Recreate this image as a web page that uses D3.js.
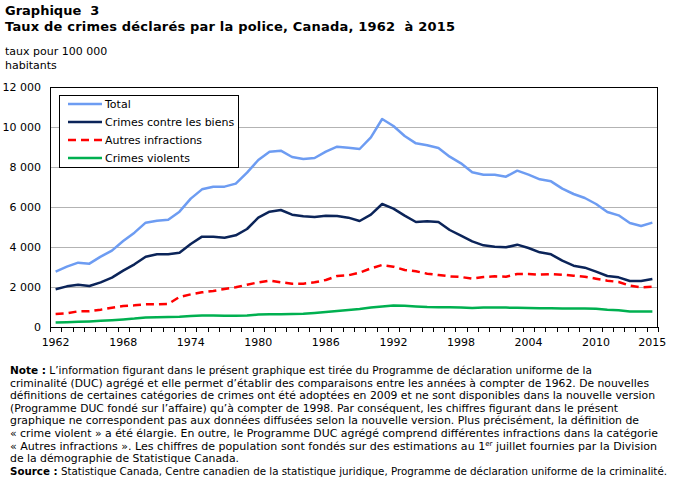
<!DOCTYPE html>
<html><head><meta charset="utf-8">
<script src="https://cdn.jsdelivr.net/npm/d3@7"></script>
<style>
body{margin:0;background:#fff;}
svg{display:block;}
</style></head>
<body>
<svg id="c" width="673" height="484"></svg>
<script>
const years = d3.range(1962, 2016);
const total = [2770,3017,3217,3167,3517,3817,4300,4717,5217,5317,5367,5767,6417,6883,7017,7017,7167,7717,8350,8767,8817,8500,8400,8450,8767,9017,8967,8900,9483,10400,10050,9550,9183,9083,8950,8517,8183,7733,7617,7617,7517,7817,7617,7383,7283,6917,6650,6450,6150,5750,5583,5200,5050,5217];
const biens = [1891,2033,2117,2050,2233,2467,2817,3133,3517,3633,3633,3717,4150,4517,4517,4467,4583,4900,5467,5767,5850,5617,5533,5500,5567,5550,5467,5300,5617,6150,5917,5567,5250,5283,5250,4850,4567,4283,4083,4017,3983,4117,3950,3733,3633,3317,3067,2967,2767,2550,2483,2300,2300,2400];
const autres = [650,683,783,783,867,967,1050,1083,1133,1133,1150,1500,1633,1733,1800,1900,1983,2117,2233,2317,2233,2167,2167,2233,2350,2550,2583,2717,2933,3100,3017,2850,2783,2667,2600,2533,2500,2417,2500,2533,2517,2650,2650,2617,2650,2617,2567,2517,2417,2317,2250,2067,1983,2017];
const violents = [220,240,260,280,310,340,380,420,480,490,500,510,550,580,580,560,560,580,620,640,640,650,660,700,750,800,850,900,970,1030,1080,1060,1030,1000,990,990,980,950,970,980,970,960,950,940,940,930,930,920,910,860,840,780,770,770];
const yTicks = [0,2000,4000,6000,8000,10000,12000];
const xLabelYears = [1962,1968,1974,1980,1986,1992,1998,2004,2010,2015];
const seriesNames = ["Total","Crimes contre les biens","Autres infractions","Crimes violents"];
const seriesColors = ["#6d9cf2","#0b2459","#ff0000","#00b050"];
const seriesDash = [null,null,"8,5",null];
const seriesData = [total,biens,autres,violents];

const svg = d3.select("#c");
const L=50, R=658, T=87, B=327;
const x = d3.scaleBand().domain(years).range([L,R]);
const y = d3.scaleLinear().domain([0,12000]).range([B,T]);

// titles
svg.append("text").attr("x",5).attr("y",15).attr("font-family","DejaVu Sans").attr("font-weight","bold").attr("font-size",13).text("Graphique  3").style("white-space","pre");
svg.append("text").attr("x",5).attr("y",31).attr("font-family","DejaVu Sans").attr("font-weight","bold").attr("font-size",13).text("Taux de crimes déclarés par la police, Canada, 1962  à 2015").style("white-space","pre")
  .attr("textLength",450).attr("lengthAdjust","spacing");
svg.append("text").attr("x",5).attr("y",55).attr("font-family","DejaVu Sans").attr("font-size",11).text("taux pour 100 000");
svg.append("text").attr("x",5).attr("y",69).attr("font-family","DejaVu Sans").attr("font-size",11).text("habitants");

// gridlines
svg.append("g").selectAll("line").data(yTicks.filter(d=>d>0 && d<12000)).join("line")
  .attr("x1",L).attr("x2",R).attr("y1",d=>y(d)).attr("y2",d=>y(d))
  .attr("stroke","#b3b3b3").attr("stroke-width",1).attr("shape-rendering","crispEdges");

// y labels
svg.append("g").selectAll("text").data(yTicks).join("text")
  .attr("x",41).attr("y",d=>y(d)+4).attr("text-anchor","end")
  .attr("font-family","DejaVu Sans").attr("font-size",11).attr("fill","#000")
  .text(d=>d===0?"0":d3.format(",")(d).replace(","," "));

// x ticks at band boundaries
const bounds = years.map(d=>x(d)).concat([R]);
svg.append("g").selectAll("line").data(bounds).join("line")
  .attr("x1",d=>Math.round(d)+0.5).attr("x2",d=>Math.round(d)+0.5).attr("y1",B).attr("y2",B+5)
  .attr("stroke","#000").attr("stroke-width",1);

// x labels
svg.append("g").selectAll("text").data(xLabelYears).join("text")
  .attr("x",d=>x(d)+x.bandwidth()/2).attr("y",346).attr("text-anchor","middle")
  .attr("font-family","DejaVu Sans").attr("font-size",11).text(d=>d);

// lines
const line = d3.line().x((d,i)=>x(years[i])+x.bandwidth()/2).y(d=>y(d)).curve(d3.curveLinear);
[3,2,1,0].forEach(k=>{
  svg.append("path").datum(seriesData[k]).attr("d",line)
    .attr("fill","none").attr("stroke",seriesColors[k]).attr("stroke-width",2.5)
    .attr("stroke-linejoin","round").attr("stroke-dasharray",seriesDash[k]);
});

// frame
svg.append("rect").attr("x",L+0.5).attr("y",T+0.5).attr("width",R-L-1).attr("height",B-T)
  .attr("fill","none").attr("stroke","#000").attr("stroke-width",1);

// legend
const lg = svg.append("g");
lg.append("rect").attr("x",59.5).attr("y",95.5).attr("width",179).attr("height",72)
  .attr("fill","#fff").attr("stroke","#000").attr("stroke-width",1);
seriesNames.forEach((n,i)=>{
  const yy = 104 + i*18;
  lg.append("line").attr("x1",68).attr("x2",102).attr("y1",yy).attr("y2",yy)
    .attr("stroke",seriesColors[i]).attr("stroke-width",2.5).attr("stroke-dasharray",seriesDash[i]);
  lg.append("text").attr("x",105).attr("y",yy+4).attr("font-family","DejaVu Sans").attr("font-size",11).text(n);
});

// notes
const notes = [
 [["Note :","b"],[" L’information figurant dans le présent graphique est tirée du Programme de déclaration uniforme de la",""]],
 [["criminalité (DUC) agrégé et elle permet d’établir des comparaisons entre les années à compter de 1962. De nouvelles",""]],
 [["définitions de certaines catégories de crimes ont été adoptées en 2009 et ne sont disponibles dans la nouvelle version",""]],
 [["(Programme DUC fondé sur l’affaire) qu’à compter de 1998. Par conséquent, les chiffres figurant dans le présent",""]],
 [["graphique ne correspondent pas aux données diffusées selon la nouvelle version. Plus précisément, la définition de",""]],
 [["« crime violent » a été élargie. En outre, le Programme DUC agrégé comprend différentes infractions dans la catégorie",""]],
 [["« Autres infractions ». Les chiffres de population sont fondés sur des estimations au 1",""],["er","sup"],[" juillet fournies par la Division",""]],
 [["de la démographie de Statistique Canada.",""]],
 [["Source :","b"],[" Statistique Canada, Centre canadien de la statistique juridique, Programme de déclaration uniforme de la criminalité.",""]]
];
const lineEnds = [592,649,655,618,639,658,657,239,667];
notes.forEach((parts,i)=>{
  const t = svg.append("text").attr("x",10).attr("y",374+i*12.6)
    .attr("font-family","DejaVu Sans Condensed").attr("font-size",11);
  parts.forEach((p,j)=>{
    const s = t.append("tspan").text(p[0]);
    if(p[1]==="b") s.attr("font-weight","bold");
    if(p[1]==="sup") s.attr("font-size",7).attr("dy",-4);
    if(j>0 && parts[j-1][1]==="sup") s.attr("dy",4);
  });
  t.attr("textLength",lineEnds[i]-10).attr("lengthAdjust","spacingAndGlyphs");
});
</script>
</body></html>
